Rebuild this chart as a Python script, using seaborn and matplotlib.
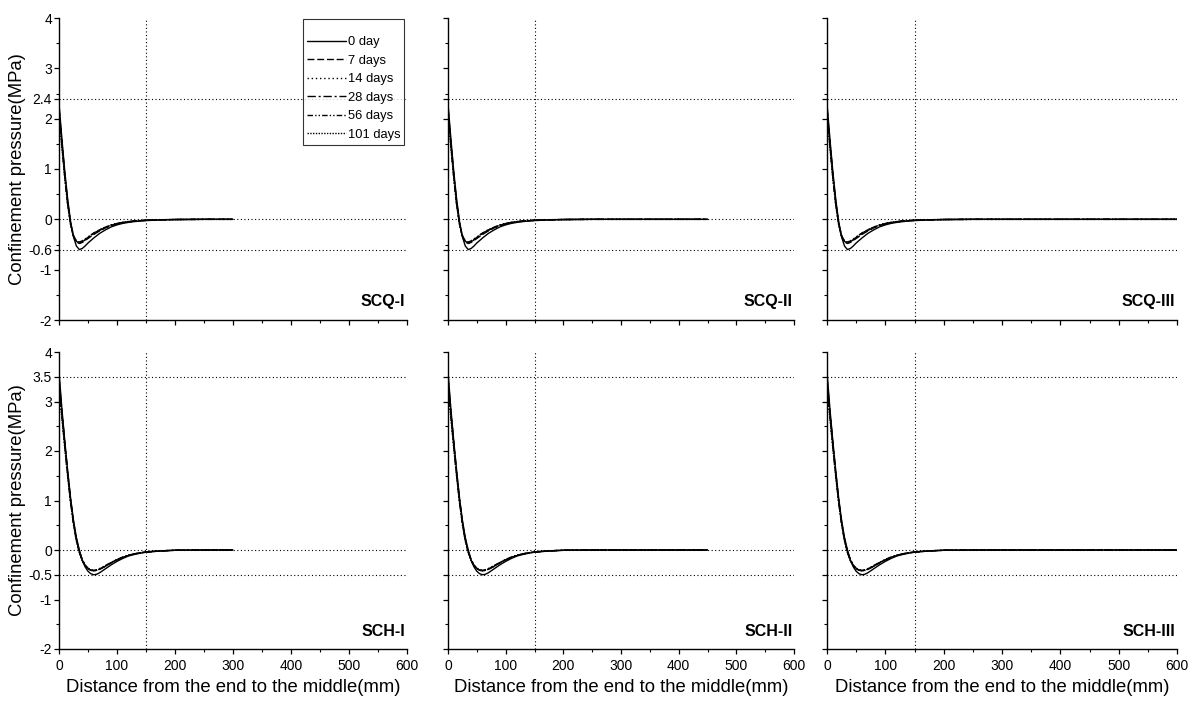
import numpy as np
import pandas as pd
import matplotlib
matplotlib.use("Agg")
import matplotlib.pyplot as plt
from matplotlib.ticker import MultipleLocator
import seaborn as sns

# Curing ages (one curve per age)
AGES = ["0 day", "7 days", "14 days", "28 days", "56 days", "101 days"]

# Distance from the member end (mm)
X_Q = [0, 5, 10, 15, 20, 25, 30, 35, 40, 45, 50, 60, 70, 80, 90, 100, 110, 120,
       130, 140, 150, 175, 200, 250, 300, 350, 400, 450, 500, 550, 600]
X_H = [0, 5, 10, 15, 20, 25, 30, 35, 40, 45, 50, 55, 60, 65, 70, 80, 90, 100,
       110, 120, 130, 140, 150, 175, 200, 250, 300, 350, 400, 450, 500, 550, 600]

# Confinement pressure (MPa), SCQ specimens
SCQ_0 = [2.30, 1.60, 0.95, 0.40, -0.05, -0.35, -0.53, -0.60, -0.58, -0.53, -0.47, -0.37, -0.28,
         -0.21, -0.15, -0.11, -0.08, -0.06, -0.045, -0.033, -0.025, -0.012, -0.005,
         0, 0, 0, 0, 0, 0, 0, 0]
SCQ_7 = [2.20, 1.52, 0.88, 0.33, -0.08, -0.33, -0.45, -0.48, -0.46, -0.42, -0.38, -0.30, -0.23,
         -0.17, -0.125, -0.09, -0.066, -0.049, -0.036, -0.027, -0.020, -0.009, -0.004,
         0, 0, 0, 0, 0, 0, 0, 0]
SCQ_14 = [2.15, 1.48, 0.85, 0.31, -0.09, -0.33, -0.44, -0.46, -0.44, -0.40, -0.36, -0.28, -0.21,
          -0.16, -0.115, -0.085, -0.062, -0.046, -0.034, -0.026, -0.019, -0.009, -0.004,
          0, 0, 0, 0, 0, 0, 0, 0]
SCQ_28 = [2.22, 1.54, 0.90, 0.34, -0.07, -0.32, -0.44, -0.47, -0.45, -0.41, -0.37, -0.29, -0.22,
          -0.165, -0.12, -0.088, -0.064, -0.047, -0.035, -0.026, -0.020, -0.009, -0.004,
          0, 0, 0, 0, 0, 0, 0, 0]
SCQ_56 = [2.10, 1.45, 0.83, 0.29, -0.10, -0.34, -0.43, -0.45, -0.43, -0.39, -0.35, -0.27, -0.205,
          -0.155, -0.11, -0.082, -0.060, -0.044, -0.033, -0.025, -0.018, -0.008, -0.003,
          0, 0, 0, 0, 0, 0, 0, 0]
SCQ_101 = [2.05, 1.42, 0.81, 0.28, -0.11, -0.35, -0.44, -0.46, -0.44, -0.40, -0.355, -0.275, -0.21,
           -0.158, -0.113, -0.083, -0.061, -0.045, -0.034, -0.025, -0.018, -0.008, -0.003,
           0, 0, 0, 0, 0, 0, 0, 0]

# Confinement pressure (MPa), SCH specimens
SCH_0 = [3.60, 2.85, 2.20, 1.60, 1.05, 0.60, 0.25, 0.00, -0.20, -0.34, -0.43, -0.48, -0.50,
         -0.49, -0.46, -0.38, -0.30, -0.23, -0.17, -0.12, -0.09, -0.065, -0.045, -0.020, -0.006,
         0, 0, 0, 0, 0, 0, 0, 0]
SCH_7 = [3.45, 2.78, 2.15, 1.55, 1.00, 0.56, 0.22, -0.03, -0.20, -0.31, -0.38, -0.41, -0.42,
         -0.41, -0.39, -0.33, -0.26, -0.20, -0.15, -0.11, -0.08, -0.058, -0.041, -0.018, -0.005,
         0, 0, 0, 0, 0, 0, 0, 0]
SCH_14 = [3.35, 2.72, 2.10, 1.52, 0.98, 0.54, 0.21, -0.04, -0.20, -0.30, -0.37, -0.40, -0.41,
          -0.40, -0.38, -0.32, -0.255, -0.195, -0.145, -0.105, -0.078, -0.056, -0.040, -0.017, -0.005,
          0, 0, 0, 0, 0, 0, 0, 0]
SCH_28 = [3.50, 2.80, 2.17, 1.57, 1.02, 0.57, 0.23, -0.02, -0.19, -0.30, -0.37, -0.41, -0.42,
          -0.41, -0.39, -0.33, -0.26, -0.20, -0.15, -0.11, -0.08, -0.058, -0.041, -0.018, -0.005,
          0, 0, 0, 0, 0, 0, 0, 0]
SCH_56 = [3.30, 2.70, 2.08, 1.50, 0.96, 0.52, 0.19, -0.05, -0.21, -0.31, -0.37, -0.40, -0.41,
          -0.40, -0.375, -0.315, -0.25, -0.19, -0.142, -0.103, -0.076, -0.055, -0.039, -0.017, -0.005,
          0, 0, 0, 0, 0, 0, 0, 0]
SCH_101 = [3.25, 2.66, 2.05, 1.48, 0.95, 0.51, 0.18, -0.06, -0.22, -0.32, -0.38, -0.41, -0.42,
           -0.41, -0.385, -0.32, -0.255, -0.195, -0.145, -0.105, -0.077, -0.056, -0.040, -0.017, -0.005,
           0, 0, 0, 0, 0, 0, 0, 0]

# Specimen names and the length each curve is plotted to (mm)
SCQ_NAMES = ["SCQ-I", "SCQ-II", "SCQ-III"]
SCH_NAMES = ["SCH-I", "SCH-II", "SCH-III"]
PANEL_END = [300, 450, 600]

# Guide lines
REF_X = 150
REF_Y_Q = [2.4, 0, -0.6]
REF_Y_H = [3.5, 0, -0.5]

# Y tick values / labels per row
YTICKS_Q = [-2, -1, -0.6, 0, 1, 2, 2.4, 3, 4]
YLABELS_Q = ["-2", "-1", "-0.6", "0", "1", "2", "2.4", "3", "4"]
YTICKS_H = [-2, -1, -0.5, 0, 1, 2, 3, 3.5, 4]
YLABELS_H = ["-2", "-1", "-0.5", "0", "1", "2", "3", "3.5", "4"]
XTICKS = [0, 100, 200, 300, 400, 500, 600]

sns.set_theme(style="white")
plt.rcParams["font.family"] = ["Liberation Sans", "DejaVu Sans"]
plt.rcParams["axes.unicode_minus"] = False
plt.rcParams["text.color"] = "black"
plt.rcParams["axes.labelcolor"] = "black"


def long_frame(x, series):
    rows = []
    for age, vals in zip(AGES, series):
        for xi, yi in zip(x, vals):
            rows.append((xi, yi, age))
    return pd.DataFrame(rows, columns=["x", "p", "age"])


df_q = long_frame(X_Q, [SCQ_0, SCQ_7, SCQ_14, SCQ_28, SCQ_56, SCQ_101])
df_h = long_frame(X_H, [SCH_0, SCH_7, SCH_14, SCH_28, SCH_56, SCH_101])

DASHES = ["", (5, 2), (1, 2), (6, 2, 1.5, 2), (4, 1.5, 1, 1.5, 1, 1.5), (1, 1)]

fig = plt.figure(figsize=(11.9, 7.04), dpi=100)

lefts = [59 / 1190, 448 / 1190, 827 / 1190]
widths = [348 / 1190, 346 / 1190, 350 / 1190]
rows_pos = [((704 - 320) / 704, 302 / 704), ((704 - 649) / 704, 297 / 704)]

rows = [
    (df_q, SCQ_NAMES, REF_Y_Q, YTICKS_Q, YLABELS_Q),
    (df_h, SCH_NAMES, REF_Y_H, YTICKS_H, YLABELS_H),
]

legend_handles = None
for r, (df, names, refy, yt, yl) in enumerate(rows):
    bottom, height = rows_pos[r]
    for c in range(3):
        ax = fig.add_axes([lefts[c], bottom, widths[c], height])
        sub = df[df["x"] <= PANEL_END[c]]
        sns.lineplot(data=sub, x="x", y="p", hue="age", style="age",
                     hue_order=AGES, style_order=AGES,
                     palette=["black"] * 6, dashes=DASHES,
                     estimator=None, sort=False, legend=False,
                     linewidth=1.0, ax=ax, zorder=3)
        if legend_handles is None:
            legend_handles = list(ax.get_lines()[:6])

        for yv in refy:
            ax.axhline(yv, color="black", lw=0.8, ls=(0, (1, 2.2)), zorder=1)
        ax.axvline(REF_X, color="black", lw=0.8, ls=(0, (1, 2.2)), zorder=1)

        ax.set_xlim(0, 600)
        ax.set_ylim(-2, 4)
        for s in ["top", "right"]:
            ax.spines[s].set_visible(False)
        for s in ["left", "bottom"]:
            ax.spines[s].set_color("black")
            ax.spines[s].set_linewidth(1.0)

        ax.set_xticks(XTICKS)
        ax.xaxis.set_minor_locator(MultipleLocator(50))
        ax.set_yticks(yt)
        ax.yaxis.set_minor_locator(MultipleLocator(0.5))
        ax.tick_params(axis="both", which="major", direction="out", length=3.5,
                       width=0.9, color="black", labelsize=10,
                       labelcolor="black")
        ax.tick_params(axis="y", which="major", pad=1.5)
        ax.tick_params(axis="x", which="major", pad=4)
        ax.tick_params(axis="both", which="minor", direction="out", length=2.5,
                       width=0.8, color="black")
        ax.tick_params(bottom=True, left=True, which="both")

        if c == 0:
            ax.set_yticklabels(yl)
            ax.set_ylabel("Confinement pressure(MPa)", fontsize=13.3, color="black")
            ax.yaxis.set_label_coords(-0.095, 0.5)
        else:
            ax.set_yticklabels([])
            ax.set_ylabel("")

        if r == 1:
            ax.set_xticklabels([str(v) for v in XTICKS])
            ax.set_xlabel("Distance from the end to the middle(mm)", fontsize=13.3,
                          color="black")
            ax.xaxis.set_label_coords(0.5, -0.1)
        else:
            ax.set_xticklabels([])
            ax.set_xlabel("")

        ax.text(0.995, 0.06, names[c], transform=ax.transAxes, ha="right",
                va="center", fontsize=11.5, fontweight="bold", color="black")

        if r == 0 and c == 0:
            leg = ax.legend(legend_handles, AGES, loc="upper left",
                            bbox_to_anchor=(0.701, 0.997), fontsize=9.3,
                            title=" ", title_fontsize=5,
                            frameon=True, fancybox=False, handlelength=3.0,
                            handletextpad=0.15, labelspacing=0.5,
                            borderpad=0.3, borderaxespad=0)
            leg.get_frame().set_edgecolor("black")
            leg.get_frame().set_linewidth(0.8)
            for t in leg.get_texts():
                t.set_color("black")

fig.savefig("out.png", dpi=100, facecolor="white")
